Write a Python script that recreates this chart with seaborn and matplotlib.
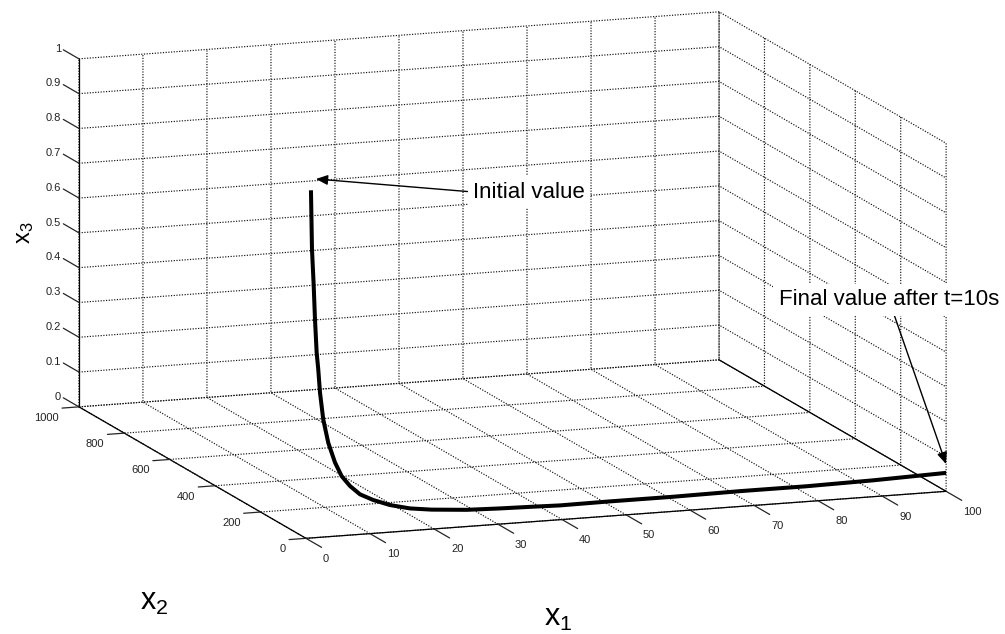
import seaborn as sns
import matplotlib
matplotlib.use('Agg')
import matplotlib.pyplot as plt
from mpl_toolkits.mplot3d import proj3d

# trajectory (x2 stays about 0)
x1 = [0.78, 0.94, 1.2, 1.41, 1.67, 1.92, 2.19, 2.7, 3.48, 4.53, 5.58, 6.88, 8.44, 10.5, 13.1,
      16.25, 19.6, 25.1, 30.3, 35.5, 39.7, 47, 57.3, 67.8, 78.2, 88.6, 100]
x2 = [0] * len(x1)
x3 = [0.999, 0.829, 0.728, 0.627, 0.531, 0.483, 0.416, 0.338, 0.27, 0.212, 0.171, 0.141, 0.115,
      0.096, 0.078, 0.064, 0.056, 0.048, 0.045, 0.043, 0.041, 0.042, 0.042, 0.044, 0.044, 0.047, 0.053]

x1_ticks = list(range(0, 101, 10))
x2_ticks = list(range(0, 1001, 200))
x3_ticks = [0, 0.1, 0.2, 0.3, 0.4, 0.5, 0.6, 0.7, 0.8, 0.9, 1]
x3_labels = ['0', '0.1', '0.2', '0.3', '0.4', '0.5', '0.6', '0.7', '0.8', '0.9', '1']

W, H = 1005, 634
TICK_COLOR = '#222222'

sns.set_theme(style='white')
plt.rcParams['font.family'] = ['Liberation Sans']
plt.rcParams['mathtext.default'] = 'regular'


def fx(px):
    return px / W


def fy(py):
    return 1 - py / H


fig = plt.figure(figsize=(W / 100, H / 100), dpi=100, facecolor='white')
ax = fig.add_axes([2.6 / W, -151 / H, 993 / W, 993 / H], projection='3d', proj_type='ortho',
                  computed_zorder=False)
ax.view_init(elev=11.9, azim=-109.6)
ax.set_facecolor('none')

# curve through seaborn, then lifted into 3D
sns.lineplot(x=x1, y=x2, sort=False, estimator=None, color='black', linewidth=2.9, ax=ax, zorder=5)
ax.lines[-1].set_3d_properties(x3, 'z')
ax.lines[-1].set_solid_capstyle('butt')

# frame edge at x1=100 is solid in the original
ax.plot([100, 100], [0, 1000], [0, 0], color='black', lw=0.8, zorder=4)

ax.set_xlim(0, 100, view_margin=0)
ax.set_ylim(0, 1000, view_margin=0)
ax.set_zlim(0, 1, view_margin=0)
ax.set_box_aspect((679.4, 676.7, 355.6))

ax.set_xticks(x1_ticks)
ax.set_yticks(x2_ticks)
ax.set_zticks(x3_ticks)
ax.tick_params(axis='x', labelbottom=False)
ax.tick_params(axis='y', labelleft=False)
ax.tick_params(axis='z', labelleft=False)

# z axis on the left edge, ticks along x2 like matlab
ax.zaxis.set_ticks_position('upper')
ax.zaxis._get_tickdir = lambda pos: 1

tick_in = {'x': 0.86, 'y': 0.33, 'z': 0}
tick_out = {'x': 0, 'y': 0, 'z': 0.86}
for name, axis in zip('xyz', (ax.xaxis, ax.yaxis, ax.zaxis)):
    axis.set_pane_color((1, 1, 1, 0))
    axis.pane.set_edgecolor('none')
    axis.line.set_color('black')
    axis.line.set_linewidth(0.9)
    axis._axinfo['grid'].update(color='#111111', linestyle=(0, (1, 1.3)), linewidth=0.85)
    axis._axinfo['tick'].update(inward_factor=tick_in[name], outward_factor=tick_out[name],
                                linewidth={True: 0.9, False: 0.9})
ax.grid(True)
ax.set_xlabel('')
ax.set_ylabel('')


# tick labels sit off the tick ends, as a pixel offset from the projected tick
def tick_label(x, y, z, text, dx, dy, ha):
    px, py, _ = proj3d.proj_transform(x, y, z, ax.get_proj())
    ax.annotate(text, xy=(px, py), xycoords='data', xytext=(dx, dy), textcoords='offset pixels',
                fontsize=8, ha=ha, va='center', color=TICK_COLOR, annotation_clip=False)


for v in x1_ticks:
    tick_label(v, 0, 0, str(v), 17, -20.5, 'left')
for v in x2_ticks:
    tick_label(0, v, 0, str(v), -20, -10.8, 'right')
for v, lab in zip(x3_ticks, x3_labels):
    tick_label(0, 1000, v, lab, -18, 10.2, 'right')

# axis names
fig.text(fx(154), fy(602), r'$x_2$', fontsize=22, ha='center', va='center', color='black')
fig.text(fx(558), fy(618), r'$x_1$', fontsize=22, ha='center', va='center', color='black')
fig.text(fx(25), fy(233), r'$x_3$', fontsize=17, rotation=90, ha='center', va='center', color='black')

# annotations
arrow = dict(arrowstyle='-|>,head_length=0.7,head_width=0.3', color='black', lw=1,
             shrinkA=0, shrinkB=0, mutation_scale=10)
box = dict(boxstyle='square,pad=0.25', fc='white', ec='none')
ax.annotate('Initial value', xy=(fx(316), fy(179)), xycoords='figure fraction',
            xytext=(fx(529), fy(192)), textcoords='figure fraction', fontsize=16,
            ha='center', va='center', color='black', bbox=box,
            arrowprops=dict(arrow, relpos=(0, 0.5)))
ax.annotate('Final value after t=10s', xy=(fx(946), fy(464)), xycoords='figure fraction',
            xytext=(fx(889), fy(300)), textcoords='figure fraction', fontsize=16,
            ha='center', va='center', color='black', bbox=box,
            arrowprops=dict(arrow, relpos=(0.5, 0.5)))

fig.savefig('out.png', dpi=100, facecolor='white')
